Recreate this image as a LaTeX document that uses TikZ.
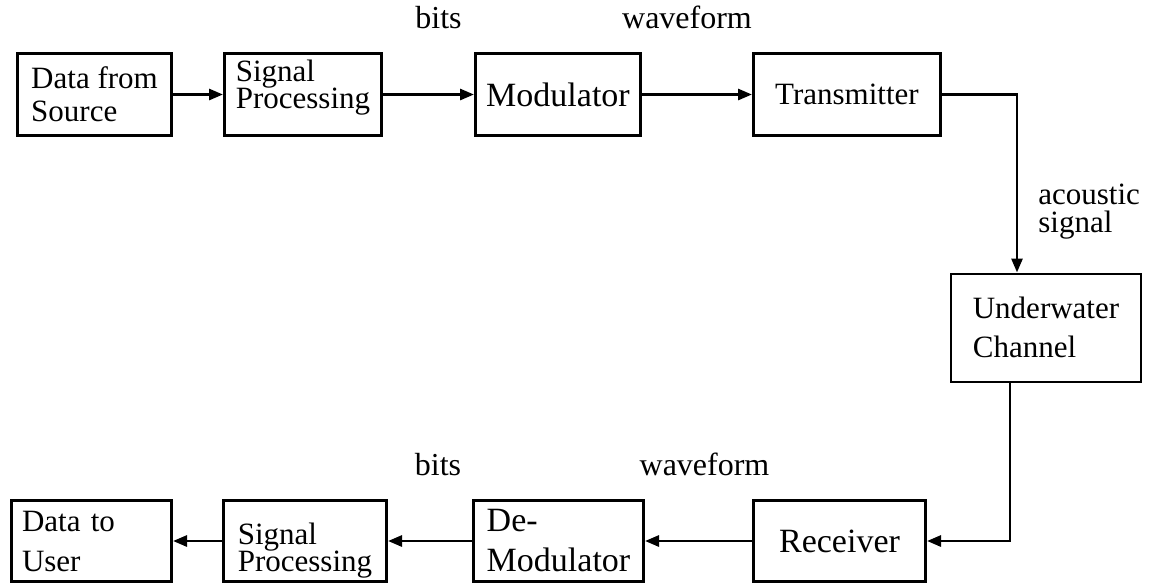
\documentclass[tikz,border=0pt]{standalone}
\usepackage{fontspec}
\setmainfont{Liberation Serif}
\usepackage{tikz}
\usetikzlibrary{arrows.meta,positioning}
\tikzset{
  block/.style={draw,line width=1.4pt,align=left,minimum height=41.1pt,
              inner sep=2pt,font=\fontsize{15.5}{16}\selectfont},
  lowblock/.style={block,minimum height=40.6pt},
  bigtext/.style={font=\fontsize{17}{18}\selectfont},
  chanbox/.style={block,line width=1pt,minimum width=95pt,minimum height=54pt},
  flow/.style={-{Triangle[length=7pt,width=5.5pt]},line width=1.4pt},
  lab/.style={font=\fontsize{16}{14}\selectfont,align=left,inner sep=0pt}
}

\begin{document}
\begin{tikzpicture}[node distance=25pt]
  \useasboundingbox (0,0) rectangle (578.5pt,-292.5pt);
  % transmit chain, left to right
  \node[block,minimum width=77.1pt,anchor=north west] (src) at (8pt,-26pt) {Data from\\[0.5pt]Source};
  \node[block,minimum width=78.6pt,right=25pt of src] (sigproc) {Signal\\[-2.5pt]Processing\rule[-10pt]{0pt}{10pt}};
  \node[block,bigtext,minimum width=82.6pt,right=45.5pt of sigproc] (mod) {Modulator};
  \node[block,minimum width=93.6pt,right=55pt of mod] (tx) {Transmitter};
  \node[chanbox] (chan) at (523pt,-163.75pt) {Underwater\\[3.5pt]Channel};
  % receive chain, right to left
  \node[lowblock,bigtext,minimum width=86.1pt,anchor=north west] (rx) at (376pt,-249.5pt) {Receiver};
  \node[lowblock,bigtext,minimum width=85.1pt,left=53.5pt of rx] (demod) {De-\\[2pt]Modulator};
  \node[lowblock,minimum width=81.6pt,left=42pt of demod] (sigpost) {\rule{0pt}{20pt}Signal\\[-2.5pt]Processing};
  \node[lowblock,minimum width=80.1pt,text width=69.5pt,left=24.5pt of sigpost] (user) {Data to\\[4pt]User};

  \draw[flow] (src) -- (sigproc);
  \draw[flow] (sigproc) -- node[lab,above=32pt,xshift=5pt]{bits} (mod);
  \draw[flow] (mod) -- node[lab,above=32pt,xshift=-5pt]{waveform} (tx);
  \draw[flow] (tx.east) -| node[lab,right=10pt,pos=0.83,font=\fontsize{15.5}{14}\selectfont]{acoustic\\signal} ([xshift=-14.5pt]chan.north);
  \draw[flow] ([xshift=-18pt]chan.south) |- (rx.east);
  \draw[flow] (rx) -- node[lab,above=32pt,xshift=3pt]{waveform} (demod);
  \draw[flow] (demod) -- node[lab,above=32pt,xshift=4pt]{bits} (sigpost);
  \draw[flow] (sigpost) -- (user);
\end{tikzpicture}
\end{document}
